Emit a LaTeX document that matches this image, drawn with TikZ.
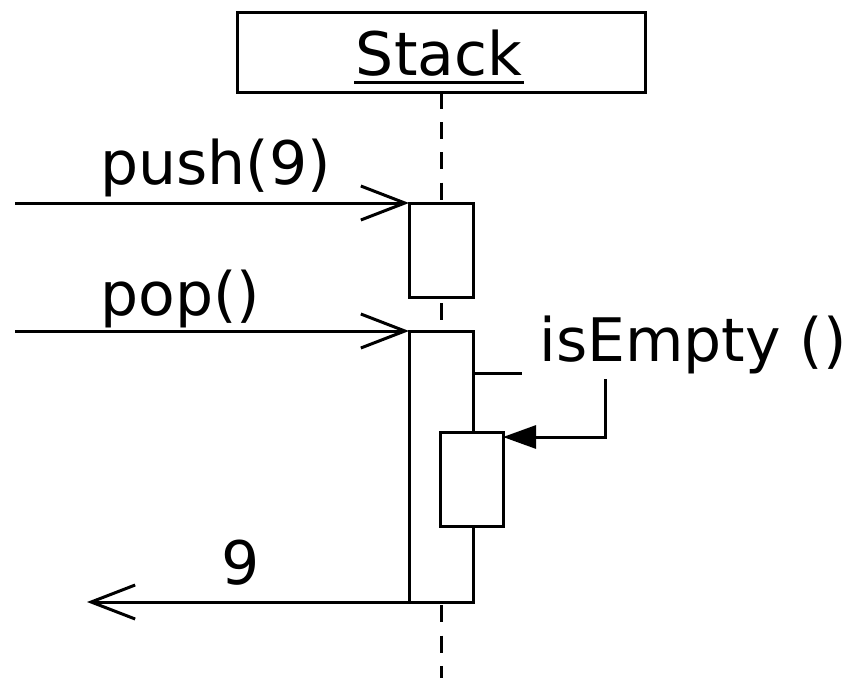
\documentclass[tikz,border=0pt]{standalone}
\usepackage{fontspec}
\setmainfont{DejaVu Sans}
\usetikzlibrary{arrows.meta}

\tikzset{
  lbl/.style={inner sep=0pt, font=\fontsize{60}{72}\selectfont},
  actbox/.style={draw, fill=white, inner sep=0pt, outer sep=0pt, anchor=north west},
  lifeline/.style={dash pattern=on 17pt off 13.2pt},
  callmsg/.style={-{Straight Barb[length=44pt,width=34pt]}},
  retmsg/.style={-{Straight Barb[length=44pt,width=34pt]}},
  selfmsg/.style={-{Triangle[length=33pt,width=23pt]}},
}

\begin{document}
\begin{tikzpicture}[x=1pt, y=-1pt, line width=3pt, line join=miter]
  \useasboundingbox (0,0) rectangle (859,678);

  % object box with its lifeline
  \node[draw, inner sep=0pt, outer sep=0pt, minimum width=408pt, minimum height=80pt, anchor=north west]
    (obj) at (237,12) {};
  \node[lbl, anchor=base] (title) at (439,75) {Stack};
  \draw ([yshift=-7pt]title.base west) -- ([yshift=-7pt]title.base east);
  \coordinate (lifeend) at (441,678);
  \draw[lifeline] (obj.south) -- (lifeend);

  % activation bars
  \node[actbox, minimum width=64pt, minimum height=94pt] (act1) at (409,203) {};
  \node[actbox, minimum width=64pt, minimum height=271pt] (act2) at (409,331) {};
  \node[actbox, minimum width=63pt, minimum height=94pt] (nested) at (440,432) {};

  % incoming calls
  \coordinate (pushsrc) at (15,203);
  \coordinate (popsrc) at (15,331);
  \draw[callmsg] (pushsrc) -- (act1.north west);
  \draw[callmsg] (popsrc) -- (act2.north west);
  \node[lbl, anchor=base west] (pushlbl) at (99,184) {push(9)};
  \node[lbl, anchor=base west] (poplbl) at (99,315) {pop()};

  % self call isEmpty ()
  \coordinate (selfout) at (522,373);
  \coordinate (selfin) at (605,379);
  \draw (act2.east |- selfout) -- (selfout);
  \draw[selfmsg] (selfin) |- ([yshift=-5pt]nested.north east);
  \node[lbl, anchor=base west] (selflbl) at (538,361) {isEmpty ()};

  % return value
  \coordinate (retend) at (87,602);
  \draw[retmsg] (act2.south west) -- (retend);
  \node[lbl, anchor=base west] (retlbl) at (220,584) {9};
\end{tikzpicture}
\end{document}
